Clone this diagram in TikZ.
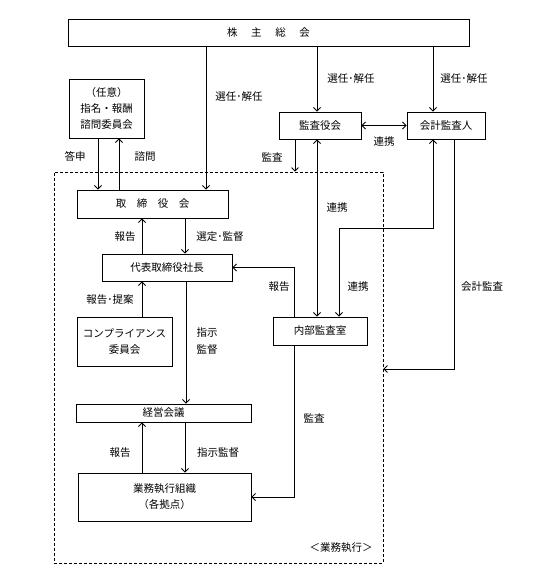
\documentclass[tikz,border=0pt]{standalone}
\usepackage{fontspec}
\setmainfont{Noto Sans CJK JP}
\usetikzlibrary{arrows.meta}
\begin{document}
\begin{tikzpicture}[x=1pt,y=-1pt,
  box/.style={draw, line width=0.9pt, inner sep=0pt, align=center, font=\fontsize{10.5}{16}\selectfont},
  lab/.style={inner sep=0pt, align=center, font=\fontsize{10.5}{17}\selectfont},
  arr/.style={-{Straight Barb[length=3.5pt,width=7pt]}, line width=0.8pt},
  darr/.style={{Straight Barb[length=3.5pt,width=7pt]}-{Straight Barb[length=3.5pt,width=7pt]}, line width=0.8pt},
  dashbox/.style={draw, dash pattern=on 3pt off 2pt, line width=0.8pt, inner sep=0pt}]
\useasboundingbox (0,0) rectangle (537,588);
% dashed execution area
\node[dashbox, minimum width=329pt, minimum height=391pt] (exec) at (218.5,367.5) {};
% boxes
\node[box, minimum width=401pt, minimum height=27pt] (soukai) at (268.5,32.5) {株\hspace{1.3em}主\hspace{1.3em}総\hspace{1.3em}会};
\node[box, minimum width=75pt, minimum height=59pt] (nin) at (106.5,108.5) {（任意）\\指名・報酬\\諮問委員会};
\node[box, minimum width=82pt, minimum height=27pt] (kansa) at (320,125.5) {監査役会};
\node[box, minimum width=78pt, minimum height=27pt] (kaikei) at (446,125.5) {会計監査人};
\node[box, minimum width=151pt, minimum height=28pt] (tori) at (152.5,204) {取\hspace{1em}締\hspace{1em}役\hspace{1em}会};
\node[box, minimum width=130pt, minimum height=27pt] (daihyo) at (167,267.5) {代表取締役社長};
\node[box, minimum width=95pt, minimum height=49pt] (comp) at (124.5,341.5) {コンプライアンス\\委員会};
\node[box, minimum width=94pt, minimum height=28pt] (naibu) at (320,331) {内部監査室};
\node[box, minimum width=175pt, minimum height=18pt] (keiei) at (163.5,413) {経営会議};
\node[box, minimum width=173pt, minimum height=48pt] (gyomu) at (164.5,497) {業務執行組織\\（各拠点）};
% connectors
\draw[arr] (206,0 |- soukai.south) -- (206,0 |- tori.north);
\draw[arr] (317,0 |- soukai.south) -- (317,0 |- kansa.north);
\draw[arr] (433,0 |- soukai.south) -- (433,0 |- kaikei.north);
\draw[arr] (98,0 |- nin.south) -- (98,0 |- tori.north);
\draw[arr] (119,0 |- tori.north) -- (119,0 |- nin.south);
\draw[darr] (kansa.east) -- (kaikei.west);
\draw[arr] (295,0 |- kansa.south) -- (295,0 |- exec.north);
\draw[darr] (317,0 |- kansa.south) -- (317,0 |- naibu.north);
\draw[darr] (433,0 |- kaikei.south) |- (339,228) -- (339,0 |- naibu.north);
\draw[arr] (454,0 |- kaikei.south) |- (exec.east |- 0,369);
\draw[arr] (185,0 |- tori.south) -- (185,0 |- daihyo.north);
\draw[arr] (142,0 |- daihyo.north) -- (142,0 |- tori.south);
\draw[arr] (142,0 |- comp.north) -- (142,0 |- daihyo.south);
\draw[arr] (186,0 |- daihyo.south) -- (186,0 |- keiei.north);
\draw[arr] (294,0 |- naibu.north) |- (daihyo.east);
\draw[arr] (294,0 |- naibu.south) |- (gyomu.east);
\draw[arr] (185,0 |- keiei.south) -- (185,0 |- gyomu.north);
\draw[arr] (142,0 |- gyomu.north) -- (142,0 |- keiei.south);
% labels
\node[lab] (l1) at (239,97) {選任･解任};
\node[lab] (l2) at (351,79) {選任･解任};
\node[lab] (l3) at (464,79) {選任･解任};
\node[lab] (l4) at (384,142) {連携};
\node[lab] (l5) at (272,157) {監査};
\node[lab] (l6) at (75,156) {答申};
\node[lab] (l7) at (145,157) {諮問};
\node[lab] (l8) at (125,237) {報告};
\node[lab] (l9) at (220,237) {選定･監督};
\node[lab] (l10) at (279,287) {報告};
\node[lab] (l11) at (110,300) {報告･提案};
\node[lab] (l12) at (207,341) {指示\\監督};
\node[lab] (l13) at (337,208) {連携};
\node[lab] (l14) at (358,287) {連携};
\node[lab] (l15) at (482,287) {会計監査};
\node[lab] (l16) at (314,418) {監査};
\node[lab] (l17) at (120,453) {報告};
\node[lab] (l18) at (218,453) {指示監督};
\node[lab] (l19) at (341,548) {＜業務執行＞};
\end{tikzpicture}
\end{document}
